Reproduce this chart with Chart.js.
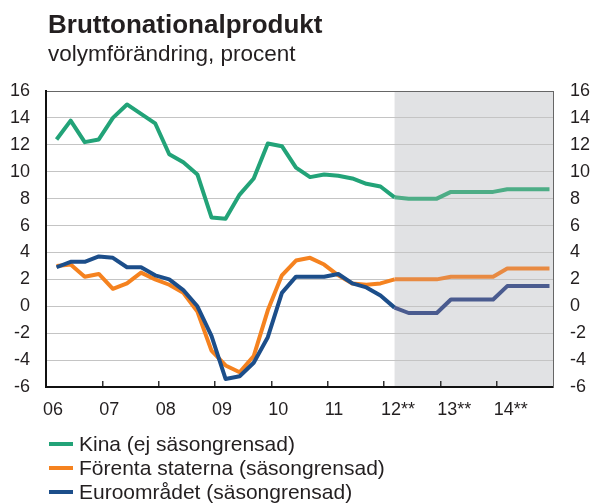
<!DOCTYPE html>
<html>
<head>
<meta charset="utf-8">
<script src="https://cdn.jsdelivr.net/npm/chart.js@4.4.0/dist/chart.umd.min.js"></script>
<style>
  body { margin: 0; background: #fff; font-family: "Liberation Sans", Arial, sans-serif; color: #231f20; }
  #wrap { position: relative; width: 592px; height: 503px; overflow: hidden; }
  #chart { position: absolute; left: 0; top: 0; }
  .title { position: absolute; left: 48px; top: 11px; font-size: 26px; line-height: 26px; font-weight: bold; white-space: nowrap; }
  .subtitle { position: absolute; left: 48px; top: 43px; font-size: 22.5px; line-height: 22.5px; white-space: nowrap; }
  #legend { position: absolute; left: 0; top: 432px; width: 592px; font-size: 21px; line-height: 24px; }
  .item { position: relative; height: 24px; white-space: nowrap; }
  .item .mark { position: absolute; left: 49px; top: 10px; width: 24px; height: 4px; }
  .item .txt { position: absolute; left: 79px; top: 0; }
</style>
</head>
<body>
<div id="wrap">
  <canvas id="chart" width="592" height="503"></canvas>
  <div class="title">Bruttonationalprodukt</div>
  <div class="subtitle">volymförändring, procent</div>
  <div id="legend"></div>
</div>
<script>
// kvartal 2006 kv1 - 2014 kv4, årlig procentuell förändring
const yearLabels = ['06', '07', '08', '09', '10', '11', '12**', '13**', '14**'];
const seriesNames = ['Kina (ej säsongrensad)', 'Förenta staterna (säsongrensad)', 'Euroområdet (säsongrensad)'];

const kina = [12.4, 13.8, 12.2, 12.4, 14.0, 15.0, 14.3, 13.6, 11.3, 10.7, 9.8, 6.6,
              6.5, 8.3, 9.5, 12.1, 11.9, 10.3, 9.6, 9.8, 9.7, 9.5, 9.1, 8.9,
              8.1, 8.0, 8.0, 8.0, 8.5, 8.5, 8.5, 8.5, 8.7, 8.7, 8.7, 8.7];
const forenta = [3.0, 3.1, 2.2, 2.4, 1.3, 1.7, 2.5, 2.0, 1.6, 1.0, -0.4, -3.3,
                 -4.4, -4.9, -3.7, -0.3, 2.3, 3.4, 3.6, 3.1, 2.3, 1.7, 1.6, 1.7,
                 2.0, 2.0, 2.0, 2.0, 2.2, 2.2, 2.2, 2.2, 2.8, 2.8, 2.8, 2.8];
const euro = [2.9, 3.3, 3.3, 3.7, 3.6, 2.9, 2.9, 2.3, 2.0, 1.2, 0.0, -2.2,
              -5.4, -5.2, -4.2, -2.3, 1.0, 2.2, 2.2, 2.2, 2.4, 1.7, 1.4, 0.8,
              -0.1, -0.5, -0.5, -0.5, 0.5, 0.5, 0.5, 0.5, 1.5, 1.5, 1.5, 1.5];

const forecastStart = 24;   // 2012 kv1, första prognoskvartalet
const pointShift = 0.75;    // punkten ligger tre fjärdedelar in i kvartalet

const colors = ['#22a378', '#f5821f', '#1c4e8a'];
const forecastColors = ['#4dad86', '#e88a42', '#4a5b8f'];

const fontFamily = '"Liberation Sans", Arial, sans-serif';

function makeDataset(name, values, i) {
  return {
    label: name,
    data: values.map((v, q) => ({ x: q, y: v })),
    borderColor: colors[i],
    order: i === 2 ? 0 : (i === 1 ? 1 : 2),
    segment: {
      borderColor: ctx => ctx.p0.parsed.x >= forecastStart ? forecastColors[i] : colors[i]
    }
  };
}

const forecastShade = {
  id: 'forecastShade',
  beforeDraw(chart) {
    const { ctx, chartArea, scales } = chart;
    const x0 = scales.x.getPixelForValue(forecastStart);
    ctx.save();
    ctx.fillStyle = '#e1e2e4';
    ctx.fillRect(x0, chartArea.top, chartArea.right - x0, chartArea.bottom - chartArea.top);
    ctx.restore();
  }
};

const tickFont = { family: fontFamily, size: 18 };

new Chart(document.getElementById('chart'), {
  type: 'line',
  data: {
    datasets: [
      makeDataset(seriesNames[0], kina, 0),
      makeDataset(seriesNames[1], forenta, 1),
      makeDataset(seriesNames[2], euro, 2)
    ]
  },
  options: {
    responsive: false,
    animation: false,
    layout: { padding: { top: 91, left: 0, right: 0, bottom: 0 } },
    plugins: { legend: { display: false }, tooltip: { enabled: false } },
    elements: {
      point: { radius: 0 },
      line: { borderWidth: 4, tension: 0, borderJoinStyle: 'round' }
    },
    scales: {
      x: {
        type: 'linear',
        position: 'bottom',
        min: -pointShift,
        max: 36 - pointShift,
        afterBuildTicks: s => { s.ticks = yearLabels.map((_, k) => ({ value: 4 * k - pointShift })); },
        afterFit: s => { s.height = 116; },
        grid: { drawOnChartArea: false, drawTicks: true, tickLength: -6, color: '#333', lineWidth: 1.5 },
        border: { color: '#111', width: 2 },
        ticks: {
          align: 'start', labelOffset: -3, padding: 18, autoSkip: false, maxRotation: 0,
          color: '#231f20', font: tickFont,
          callback: (v, i) => yearLabels[i]
        }
      },
      y: {
        position: 'left',
        min: -6, max: 16,
        afterFit: s => { s.width = 46; },
        grid: { drawTicks: false, lineWidth: 1, color: ctx => ctx.tick.value === 16 ? '#666' : '#c4c4c4' },
        border: { color: '#111', width: 2 },
        ticks: { stepSize: 2, padding: 16, color: '#231f20', font: tickFont }
      },
      y2: {
        position: 'right',
        min: -6, max: 16,
        afterFit: s => { s.width = 39; },
        grid: { drawOnChartArea: false, drawTicks: false },
        border: { color: '#666', width: 1 },
        ticks: { stepSize: 2, padding: 17, color: '#231f20', font: tickFont }
      }
    }
  },
  plugins: [forecastShade]
});

const legend = document.getElementById('legend');
seriesNames.forEach((name, i) => {
  const row = document.createElement('div');
  row.className = 'item';
  row.innerHTML = '<span class="mark" style="background:' + colors[i] + '"></span><span class="txt"></span>';
  row.querySelector('.txt').textContent = name;
  legend.appendChild(row);
});
</script>
</body>
</html>
